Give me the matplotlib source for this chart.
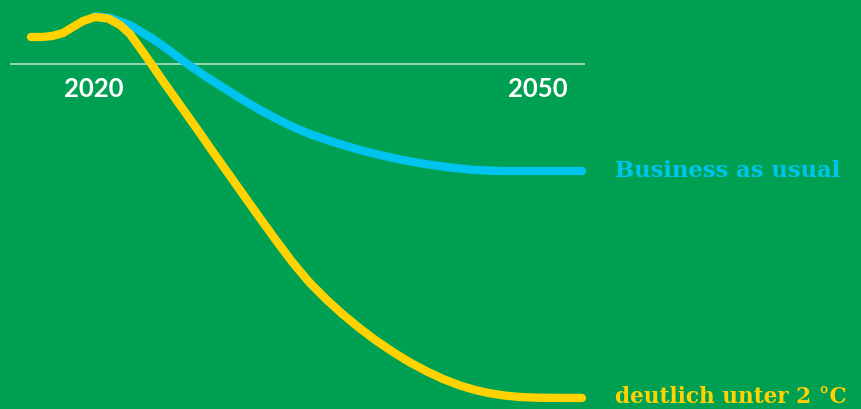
import matplotlib
matplotlib.use("Agg")
import matplotlib.pyplot as plt

# colours
BG_GREEN = "#00a052"
BLUE = "#00c4f0"
YELLOW = "#ffd200"

# emission index (peak = 100)
years_2c = [2015.74, 2016.49, 2017.16, 2017.91, 2018.58, 2019.26, 2020.07, 2020.95,
            2021.76, 2022.43, 2023.11, 2023.78, 2024.66, 2025.81, 2026.96, 2028.04,
            2029.19, 2030.34, 2031.35, 2032.43, 2033.45, 2034.59, 2035.74, 2036.82,
            2037.97, 2039.05, 2040.20, 2041.35, 2042.50, 2043.58, 2044.73, 2045.74,
            2046.76, 2047.77, 2048.78, 2050.14, 2052.97]
values_2c = [94.75, 94.75, 95.01, 95.80, 97.38, 98.95, 100.0, 99.61,
             97.90, 95.54, 91.86, 88.19, 83.20, 76.90, 70.60, 64.57,
             58.27, 51.97, 46.46, 40.68, 35.43, 30.18, 25.72, 21.92,
             18.24, 15.09, 12.07, 9.32, 6.96, 4.99, 3.28, 2.10,
             1.23, 0.63, 0.26, 0.05, 0.0]

years_bau = [2020.07, 2021.08, 2022.43, 2023.99, 2025.14, 2026.22, 2027.50, 2028.99,
             2030.07, 2031.22, 2032.36, 2033.45, 2034.59, 2035.74, 2036.82, 2037.97,
             2039.32, 2040.68, 2042.36, 2044.05, 2045.74, 2047.43, 2050.14, 2052.97]
values_bau = [100.2, 99.74, 97.90, 94.23, 91.08, 87.93, 84.51, 80.84,
              78.22, 75.59, 73.23, 71.13, 69.29, 67.72, 66.40, 65.09,
              63.78, 62.60, 61.42, 60.50, 59.84, 59.58, 59.58, 59.58]

tick_years = [2020, 2050]
ref_level = 87.7
ref_span = (2014.3, 2053.2)

label_bau = "Business as usual"
label_2c = "deutlich unter 2 °C"


def main():
    fig = plt.figure(figsize=(8.61, 4.09), dpi=100)
    fig.patch.set_facecolor(BG_GREEN)
    ax = fig.add_axes([0, 0, 1, 1])
    ax.set_facecolor(BG_GREEN)
    ax.set_xlim(2013.65, 2071.82)
    ax.set_ylim(-2.89, 104.46)
    ax.axis("off")

    # thin reference line
    ax.hlines(ref_level, ref_span[0], ref_span[1], color="white", alpha=0.75,
              linewidth=1.1, zorder=1)

    ax.plot(years_bau, values_bau, color=BLUE, linewidth=6,
            solid_capstyle="round", solid_joinstyle="round", zorder=2)
    ax.plot(years_2c, values_2c, color=YELLOW, linewidth=6,
            solid_capstyle="round", solid_joinstyle="round", zorder=3)

    for yr in tick_years:
        ax.text(yr, ref_level - 6.6, str(yr), color="white", fontsize=18.5,
                fontfamily="Lato", fontweight="bold", ha="center", va="center")

    ax.annotate(label_bau, (years_bau[-1], values_bau[-1]), xytext=(24, -4.5),
                textcoords="offset points", color=BLUE, fontsize=16.3,
                fontfamily="DejaVu Serif", fontweight="bold", va="baseline")
    ax.annotate(label_2c, (years_2c[-1], values_2c[-1]), xytext=(24, -3.4),
                textcoords="offset points", color=YELLOW, fontsize=15.6,
                fontfamily="DejaVu Serif", fontweight="bold", va="baseline",
                annotation_clip=False)

    fig.savefig("out.png", dpi=100, facecolor=BG_GREEN)


if __name__ == "__main__":
    main()
